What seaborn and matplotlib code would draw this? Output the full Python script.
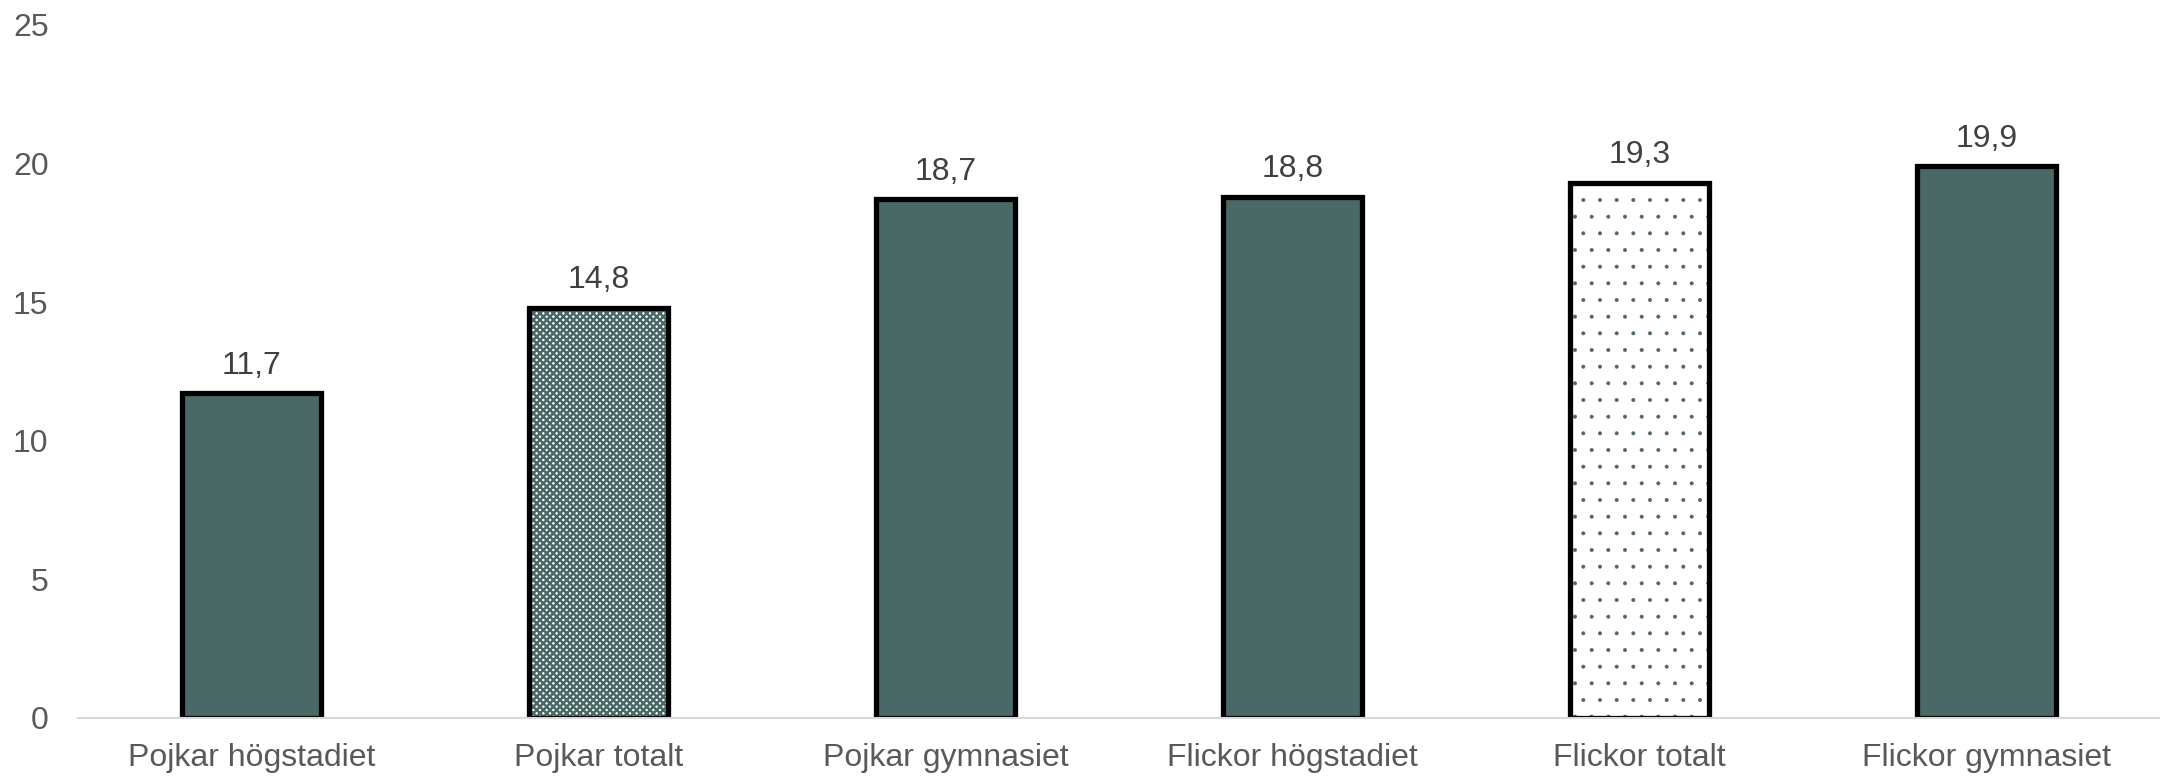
import matplotlib
matplotlib.use("Agg")
import matplotlib.pyplot as plt
import seaborn as sns

categories = ["Pojkar högstadiet", "Pojkar totalt", "Pojkar gymnasiet",
              "Flickor högstadiet", "Flickor totalt", "Flickor gymnasiet"]
values = [11.7, 14.8, 18.7, 18.8, 19.3, 19.9]
yticks = [0, 5, 10, 15, 20, 25]

TEAL = "#4A6966"
face_colors = [TEAL, "white", TEAL, TEAL, "white", TEAL]
hatches = ["", "xxxxx", "", "", ".", ""]
hatch_lw = [1.8, 1.8, 1.8, 1.8, 0.4, 1.8]

sns.set_theme(style="white")
plt.rcParams["font.family"] = ["Liberation Sans", "DejaVu Sans"]
plt.rcParams["hatch.linewidth"] = 1.8

fig = plt.figure(figsize=(21.6, 7.76), dpi=100)
ax = fig.add_axes([0.036, 0.075, 0.964, 0.893])

# fill layer (with hatch in teal)
sns.barplot(x=categories, y=values, hue=categories, palette=face_colors,
            width=0.4, linewidth=0, edgecolor=TEAL, legend=False, ax=ax,
            saturation=1)
for patch, h, hl in zip(ax.patches, hatches, hatch_lw):
    patch.set_hatch(h)
    patch.set_edgecolor(TEAL)
    patch.set_linewidth(0)
    if hasattr(patch, "set_hatch_linewidth"):
        patch.set_hatch_linewidth(hl)
    else:
        patch._hatch_linewidth = hl

# outline layer
sns.barplot(x=categories, y=values, width=0.4, fill=False, edgecolor="black",
            linewidth=3.8, ax=ax)

for i, v in enumerate(values):
    ax.annotate(f"{v:.1f}".replace(".", ","), xy=(i, v), xytext=(0, 9),
                textcoords="offset points", ha="center", va="bottom",
                fontsize=23, color="#404040")

ax.set_xlim(-0.5, 5.5)
ax.set_ylim(0, 25)
ax.set_yticks(yticks)
ax.set_yticklabels([str(t) for t in yticks])
ax.tick_params(axis="both", length=0, labelsize=23, labelcolor="#595959")
ax.tick_params(axis="y", pad=21)
ax.tick_params(axis="x", pad=18)
ax.set_xlabel("")
ax.set_ylabel("")
for s in ["top", "right", "left"]:
    ax.spines[s].set_visible(False)
ax.spines["bottom"].set_color("#D9D9D9")
ax.spines["bottom"].set_linewidth(1.5)
ax.grid(False)

fig.savefig("out.png", dpi=100)
